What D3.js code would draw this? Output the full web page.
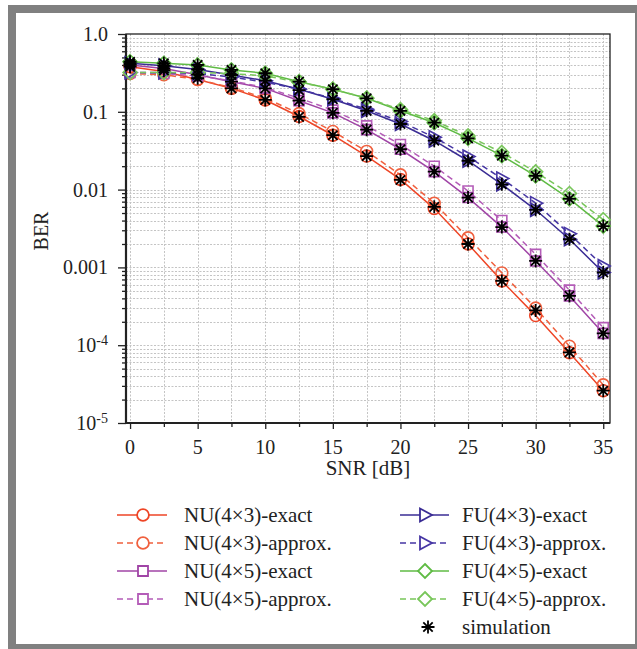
<!DOCTYPE html>
<html lang="en">
<head>
<meta charset="utf-8">
<title>BER vs SNR</title>
<script src="https://d3js.org/d3.v7.min.js"></script>
<style>
  body { margin: 0; background: #fff; }
  text { font-family: "Liberation Serif", "Times New Roman", serif; fill: #222; }
</style>
</head>
<body>
<svg id="chart" width="637" height="649"></svg>
<script>
// data
const snr = [0, 2.5, 5, 7.5, 10, 12.5, 15, 17.5, 20, 22.5, 25, 27.5, 30, 32.5, 35];

const nu43Exact  = [0.38, 0.33, 0.26, 0.20, 0.142, 0.087, 0.050, 0.027, 0.0135, 0.0057, 0.0020, 0.00067, 0.00024, 8.0e-5, 2.6e-5];
const nu43Approx = [0.31, 0.30, 0.26, 0.205, 0.15, 0.095, 0.056, 0.031, 0.0155, 0.0067, 0.0024, 0.00085, 0.00030, 9.7e-5, 3.1e-5];
const nu45Exact  = [0.40, 0.36, 0.30, 0.244, 0.20, 0.139, 0.097, 0.059, 0.033, 0.017, 0.0079, 0.0033, 0.00121, 0.00043, 0.000142];
const nu45Approx = [0.32, 0.31, 0.29, 0.25, 0.205, 0.15, 0.105, 0.066, 0.038, 0.020, 0.0096, 0.0040, 0.00147, 0.00051, 0.000168];
const fu43Exact  = [0.42, 0.39, 0.35, 0.297, 0.251, 0.195, 0.145, 0.103, 0.0697, 0.0425, 0.0235, 0.0117, 0.0055, 0.0023, 0.00086];
const fu43Approx = [0.32, 0.32, 0.31, 0.28, 0.24, 0.196, 0.148, 0.108, 0.075, 0.047, 0.0266, 0.0139, 0.0067, 0.0027, 0.00104];
const fu45Exact  = [0.44, 0.42, 0.40, 0.345, 0.313, 0.244, 0.195, 0.149, 0.103, 0.0724, 0.0456, 0.0273, 0.0150, 0.0076, 0.0034];
const fu45Approx = [0.32, 0.32, 0.32, 0.31, 0.29, 0.24, 0.195, 0.15, 0.107, 0.077, 0.049, 0.030, 0.0169, 0.0089, 0.0041];

const simNu43 = [0.38, 0.34, 0.27, 0.20, 0.142, 0.086, 0.050, 0.027, 0.0133, 0.0060, 0.0020, 0.00067, 0.00028, 8.1e-5, 2.6e-5];
const simNu45 = [0.40, 0.36, 0.30, 0.244, 0.20, 0.139, 0.097, 0.059, 0.033, 0.017, 0.0079, 0.0033, 0.00121, 0.00043, 0.000142];
const simFu43 = [0.42, 0.39, 0.35, 0.297, 0.251, 0.19, 0.145, 0.103, 0.0697, 0.0425, 0.0235, 0.0117, 0.0055, 0.0023, 0.00086];
const simFu45 = [0.44, 0.42, 0.40, 0.345, 0.313, 0.244, 0.195, 0.149, 0.103, 0.0724, 0.0456, 0.0273, 0.0150, 0.0076, 0.0034];

const xTicks = [0, 5, 10, 15, 20, 25, 30, 35];
const yTicks = [1, 0.1, 0.01, 0.001, 1e-4, 1e-5];
const yTickLabels = ["1.0", "0.1", "0.01", "0.001", "10|-4", "10|-5"];

const series = [
  {name: "NU(4\u00d73)-exact",   vals: nu43Exact,  color: "#ee4526", dash: null,  mark: "circle"},
  {name: "NU(4\u00d73)-approx.", vals: nu43Approx, color: "#f0603e", dash: "6,4", mark: "circle"},
  {name: "NU(4\u00d75)-exact",   vals: nu45Exact,  color: "#a044a6", dash: null,  mark: "square"},
  {name: "NU(4\u00d75)-approx.", vals: nu45Approx, color: "#b45cb8", dash: "6,4", mark: "square"},
  {name: "FU(4\u00d73)-exact",   vals: fu43Exact,  color: "#3a2c94", dash: null,  mark: "triangle"},
  {name: "FU(4\u00d73)-approx.", vals: fu43Approx, color: "#4636a4", dash: "6,4", mark: "triangle"},
  {name: "FU(4\u00d75)-exact",   vals: fu45Exact,  color: "#5fbb44", dash: null,  mark: "diamond"},
  {name: "FU(4\u00d75)-approx.", vals: fu45Approx, color: "#78c65a", dash: "6,4", mark: "diamond"}
];
const sims = [simNu43, simNu45, simFu43, simFu45];

const svg = d3.select("#chart");

// grey frame
svg.append("rect").attr("x", 8).attr("y", 5).attr("width", 629).attr("height", 644).attr("fill", "#808080");
svg.append("rect").attr("x", 16).attr("y", 13).attr("width", 619).attr("height", 631).attr("fill", "#fff");

const pLeft = 126, pRight = 610, pTop = 34, pBottom = 423;
const x = d3.scaleLinear().domain([-0.3, 35.5]).range([pLeft, pRight]);
const y = d3.scaleLog().domain([1e-5, 1]).range([pBottom, pTop]);

// minor values for the log axis
const minors = [];
for (let e = -5; e < 0; e++) {
  for (let m = 2; m <= 9; m++) minors.push(m * Math.pow(10, e));
}

// grid
const grid = svg.append("g").attr("stroke", "#c4c4c4").attr("stroke-width", 1).attr("stroke-dasharray", "2,1.5");
grid.selectAll(".hg").data(minors.concat(yTicks.slice(1, 5))).enter().append("line")
  .attr("x1", pLeft).attr("x2", pRight)
  .attr("y1", d => Math.round(y(d)) + 0.5).attr("y2", d => Math.round(y(d)) + 0.5);
grid.selectAll(".vg").data(d3.range(0, 35.1, 2.5)).enter().append("line")
  .attr("x1", d => Math.round(x(d)) + 0.5).attr("x2", d => Math.round(x(d)) + 0.5)
  .attr("y1", pTop).attr("y2", pBottom);

// axes
svg.append("g").attr("transform", `translate(${pLeft},0)`)
  .call(d3.axisLeft(y).tickValues(yTicks).tickSize(8).tickFormat(""));
svg.append("g").attr("transform", `translate(${pLeft},0)`)
  .call(d3.axisLeft(y).tickValues(minors).tickSize(4).tickFormat(""));
svg.append("g").attr("transform", `translate(0,${pBottom})`)
  .call(d3.axisBottom(x).tickValues(xTicks).tickSize(6).tickFormat(""));
svg.append("g").attr("transform", `translate(0,${pBottom})`)
  .call(d3.axisBottom(x).tickValues(d3.range(2.5, 35, 5)).tickSize(4).tickFormat(""));
svg.selectAll(".domain").remove();
svg.selectAll(".tick line").attr("stroke", "#222").attr("stroke-width", 1.3);

// box
svg.append("rect").attr("x", pLeft).attr("y", pTop).attr("width", pRight - pLeft).attr("height", pBottom - pTop)
  .attr("fill", "none").attr("stroke", "#222").attr("stroke-width", 1.3);
svg.append("line").attr("x1", pLeft).attr("x2", pLeft).attr("y1", pTop).attr("y2", pBottom + 1)
  .attr("stroke", "#222").attr("stroke-width", 2.2);
svg.append("line").attr("x1", pLeft).attr("x2", pRight).attr("y1", pBottom).attr("y2", pBottom)
  .attr("stroke", "#222").attr("stroke-width", 2.2);

// tick labels
yTicks.forEach((v, i) => {
  const parts = yTickLabels[i].split("|");
  const t = svg.append("text").attr("x", 108).attr("y", y(v) + 7)
    .attr("text-anchor", "end").attr("font-size", 20);
  if (parts.length === 1) {
    t.text(parts[0]);
  } else {
    t.append("tspan").text(parts[0]);
    t.append("tspan").attr("dy", -7).attr("font-size", 14).text(parts[1]);
  }
});
xTicks.forEach(v => {
  svg.append("text").attr("x", x(v)).attr("y", 454).attr("text-anchor", "middle")
    .attr("font-size", 20).text(v);
});

svg.append("text").attr("x", (pLeft + pRight) / 2).attr("y", 475).attr("text-anchor", "middle")
  .attr("font-size", 21).text("SNR [dB]");
svg.append("text").attr("transform", "translate(48,231) rotate(-90)").attr("text-anchor", "middle")
  .attr("font-size", 20).text("BER");

// marker shapes
function markerPath(type) {
  if (type === "circle") return d3.symbol(d3.symbolCircle, 110)();
  if (type === "square") return "M-5,-5H5V5H-5Z";
  if (type === "triangle") return "M-5,-6.5L7,0L-5,6.5Z";
  if (type === "diamond") return "M0,-7L7,0L0,7L-7,0Z";
  return "M-6,0H6M0,-6V6M-4.5,-4.5L4.5,4.5M-4.5,4.5L4.5,-4.5";
}
const starPath = "M-6.5,0H6.5M0,-6.5V6.5M-4.7,-4.7L4.7,4.7M-4.7,4.7L4.7,-4.7";

const line = d3.line().x((d, i) => x(snr[i])).y(d => y(d));
const plot = svg.append("g");

series.forEach(s => {
  plot.append("path").attr("d", line(s.vals)).attr("fill", "none")
    .attr("stroke", s.color).attr("stroke-width", 1.5)
    .attr("stroke-dasharray", s.dash);
});
series.forEach(s => {
  plot.selectAll(null).data(s.vals).enter().append("path")
    .attr("transform", (d, i) => `translate(${x(snr[i])},${y(d)})`)
    .attr("d", markerPath(s.mark)).attr("fill", "none")
    .attr("stroke", s.color).attr("stroke-width", 1.6);
});
sims.forEach(arr => {
  plot.selectAll(null).data(arr).enter().append("path")
    .attr("transform", (d, i) => `translate(${x(snr[i])},${y(d)})`)
    .attr("d", starPath).attr("fill", "none")
    .attr("stroke", "#000").attr("stroke-width", 1.8);
});

// legend
const legend = svg.append("g");
const rowY = [515, 543, 571, 599, 627];
series.forEach((s, i) => {
  const col = i < 4 ? 0 : 1;
  const row = i % 4;
  const x0 = col === 0 ? 117 : 400;
  const x1 = col === 0 ? 167 : 449;
  const mx = col === 0 ? 143 : 425;
  const tx = col === 0 ? 184 : 462;
  const ly = rowY[row];
  legend.append("line").attr("x1", x0).attr("x2", x1).attr("y1", ly).attr("y2", ly)
    .attr("stroke", s.color).attr("stroke-width", 1.5).attr("stroke-dasharray", s.dash);
  legend.append("path").attr("transform", `translate(${mx},${ly})`).attr("d", markerPath(s.mark))
    .attr("fill", "#fff").attr("stroke", s.color).attr("stroke-width", 1.8);
  legend.append("text").attr("x", tx).attr("y", ly + 7).attr("font-size", 21).text(s.name);
});
legend.append("path").attr("transform", `translate(428,${rowY[4]})`).attr("d", starPath)
  .attr("fill", "none").attr("stroke", "#000").attr("stroke-width", 1.8);
legend.append("text").attr("x", 462).attr("y", rowY[4] + 7).attr("font-size", 21).text("simulation");
</script>
</body>
</html>
